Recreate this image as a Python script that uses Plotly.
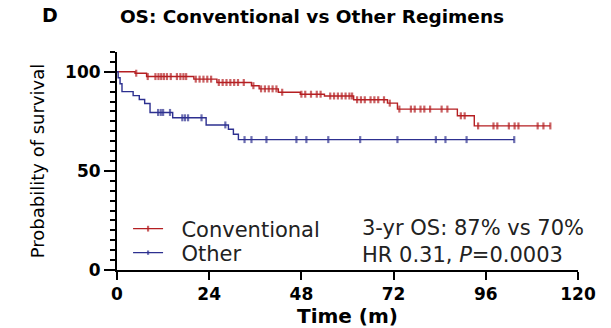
import plotly.graph_objects as go

# Kaplan-Meier overall survival, two regimen groups (months, % surviving)
conv_event_t = [0, 4.7, 7.7, 20, 26, 35, 37, 42, 47.7, 54, 61.6, 70.4, 73, 88.6, 93]
conv_event_s = [100, 99.3, 97.6, 96.3, 94.6, 93.0, 91.4, 89.7, 88.7, 87.8, 85.9, 84.2, 81.2, 77.8, 72.7]
conv_censor_t = [5, 8, 10, 10.8, 11.5, 12.2, 13, 14, 15.6, 16.5, 17.3, 18, 20.5, 21.5, 22.5,
                 23.5, 24.5, 26.5, 27.5, 28.5, 29.5, 30.5, 31.5, 33, 35.5, 37.5, 38.5, 39.5,
                 40.5, 41.5, 43, 48, 49, 50.5, 52, 53, 55.5, 56.5, 57.5, 58.5, 59.5, 60.5,
                 61.2, 62.5, 63.5, 64.5, 66, 67, 68, 69.5, 71, 73.5, 76.5, 77.5, 79, 80,
                 81.5, 84.5, 86, 89.5, 90.5, 94, 98, 99, 102, 103.5, 104.5, 109.5, 111, 112.8]

other_event_t = [0, 0.3, 0.8, 1.3, 4.2, 5.8, 7.2, 8.6, 14.5, 23.2, 29.0, 30.3, 31.6]
other_event_s = [100, 97, 94, 90, 88, 86, 84, 79.5, 76.8, 73.2, 71.0, 68.5, 65.8]
other_censor_t = [10.7, 11.4, 12, 13.8, 17, 17.7, 18.5, 22, 28.2, 33.2, 35, 38.9, 46.7,
                  49.3, 55, 63.3, 73, 83, 85.5, 91, 103.4]

group_names = ["Conventional", "Other"]
group_colors = ["#B51F22", "#2D3090"]
stats_text = "3-yr OS: 87% vs 70%<br>HR 0.31, <i>P</i>=0.0003"

x_ticks = [0, 24, 48, 72, 96, 120]

FONT = "DejaVu Sans"
GAP = "\u00a0\u00a0"  # a little extra room between legend symbol and label


def km_points(ev_t, ev_s, cen_t):
    """Merge event steps and censor times into one hv-stepped series."""
    def level(t):
        s = ev_s[0]
        for et, es in zip(ev_t, ev_s):
            if et <= t:
                s = es
        return s

    pts = [(t, s, False) for t, s in zip(ev_t, ev_s)]
    pts += [(t, level(t), True) for t in cen_t]
    pts.sort(key=lambda p: (p[0], not p[2]))
    xs = [p[0] for p in pts]
    ys = [p[1] for p in pts]
    sizes = [5 if p[2] else 0 for p in pts]
    return xs, ys, sizes


fig = go.Figure()

series = [
    (conv_event_t, conv_event_s, conv_censor_t),
    (other_event_t, other_event_s, other_censor_t),
]
legend_ids = ["legend", "legend2"]

for (ev_t, ev_s, cen_t), name, color, lg in zip(series, group_names, group_colors, legend_ids):
    xs, ys, sizes = km_points(ev_t, ev_s, cen_t)
    fig.add_trace(go.Scatter(
        x=xs, y=ys, name=GAP + name, legend=lg,
        mode="lines+markers",
        line=dict(color=color, width=1.4, shape="hv"),
        marker=dict(symbol="line-ns", size=sizes,
                    line=dict(color=color, width=2.2)),
        hoverinfo="skip",
    ))

axis_common = dict(
    showline=True, linewidth=2, linecolor="black",
    ticks="outside", tickwidth=2, tickcolor="black",
    showgrid=False, zeroline=False, automargin=False,
    tickfont=dict(family=FONT, size=17, color="black", weight="bold"),
)

fig.update_xaxes(
    range=[0, 120], tickmode="array", tickvals=x_ticks, ticklen=8,
    title=dict(text="Time (m)", standoff=5,
               font=dict(family=FONT, size=20, color="black", weight="bold")),
    **axis_common,
)
fig.update_yaxes(
    range=[0, 110], tickmode="linear", tick0=0, dtick=50, ticklen=11,
    minor=dict(tickmode="linear", tick0=0, dtick=5, ticks="outside",
               ticklen=5, tickwidth=1.5, tickcolor="black"),
    title=dict(text="Probability of survival", standoff=16,
               font=dict(family=FONT, size=18, color="black")),
    **axis_common,
)

legend_style = dict(
    font=dict(family=FONT, size=21, color="#222"),
    bgcolor="rgba(0,0,0,0)", borderwidth=0,
    xanchor="left", yanchor="middle", x=0.024,
)

fig.update_layout(
    width=611, height=328,
    margin=dict(l=117, r=33, t=52, b=58),
    paper_bgcolor="white", plot_bgcolor="white",
    showlegend=True,
    legend=dict(y=0.188, **legend_style),
    legend2=dict(y=0.078, **legend_style),
    title=dict(text="OS: Conventional vs Other Regimens",
               x=0.423, xref="paper", xanchor="center",
               y=1 - 17 / 328, yanchor="middle",
               font=dict(family=FONT, size=18.5, color="black", weight="bold")),
)

fig.add_annotation(text="D", xref="paper", yref="paper",
                   x=-0.167, y=1 + 37 / 218, xanchor="left", yanchor="middle",
                   showarrow=False,
                   font=dict(family=FONT, size=19, color="black", weight="bold"))

fig.add_annotation(text=stats_text, xref="paper", yref="paper",
                   x=0.527, y=0.133, xanchor="left", yanchor="middle",
                   align="left", showarrow=False,
                   font=dict(family=FONT, size=21, color="#222"))

fig.write_html("out.html")
